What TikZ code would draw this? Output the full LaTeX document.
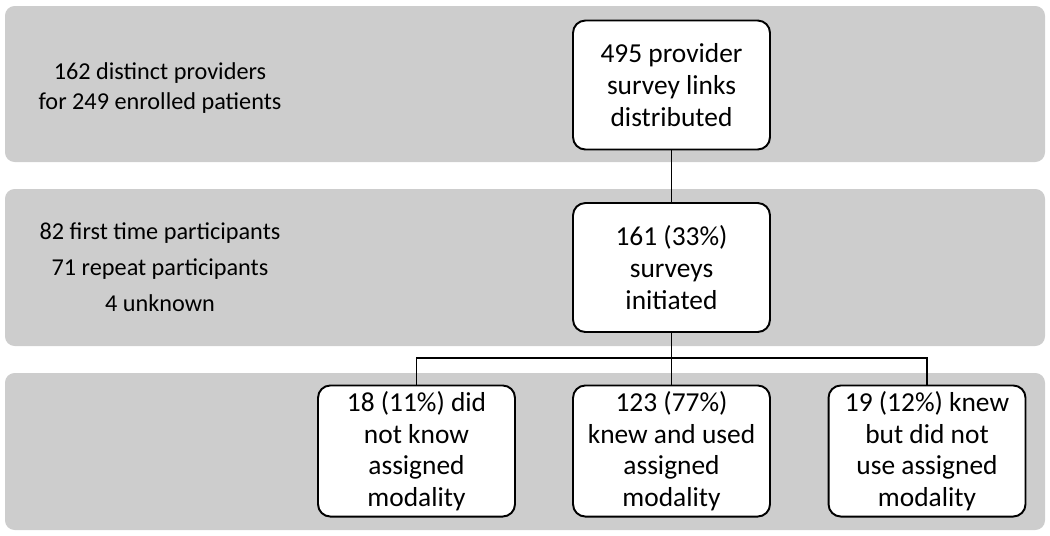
\documentclass[tikz,border=0pt]{standalone}
\usepackage{fontspec}
\setmainfont{Carlito}
\usetikzlibrary{positioning}
\definecolor{bandgray}{RGB}{205,205,205}

\begin{document}
\begin{tikzpicture}[x=0.02cm,y=-0.02cm,
  band/.style={fill=bandgray,draw=none,rounded corners=5.5pt},
  flowbox/.style={draw,fill=white,line width=1.1pt,rounded corners=7pt,
    minimum width=3.94cm,minimum height=2.58cm,align=center,
    font=\fontsize{15.6}{18}\selectfont},
  sidenote/.style={align=center,font=\fontsize{13.8}{17}\selectfont},
  link/.style={line width=0.8pt}]
\useasboundingbox (0,0) rectangle (1050,535);
% grey bands
\fill[band] (5,6) rectangle (1045,162);
\fill[band] (5,189) rectangle (1045,346);
\fill[band] (5,373) rectangle (1045,530);
% side notes
\node[sidenote] (prov) at (160,88) {162 distinct providers\\for 249 enrolled patients};
\node[sidenote,font=\fontsize{13.8}{20.5}\selectfont] (part) at (160,267) {82 first time participants\\71 repeat participants\\4 unknown};
% boxes
\node[flowbox] (links) at (671.5,85) {495 provider\\survey links\\distributed};
\node[flowbox] (init) at (671.5,267.5) {161 (33\%)\\surveys\\initiated};
\node[flowbox] (dnk) at (416.5,451) {18 (11\%) did\\not know\\assigned\\modality};
\node[flowbox] (used) at (671.5,451) {123 (77\%)\\knew and used\\assigned\\modality};
\node[flowbox] (notused) at (927,451) {19 (12\%) knew\\but did not\\use assigned\\modality};
\coordinate (split) at (671.5,358);
% connectors
\draw[link] (links) -- (init);
\draw[link] (init) -- (used);
\draw[link] (dnk.north) |- (split) -| (notused.north);
\end{tikzpicture}
\end{document}
